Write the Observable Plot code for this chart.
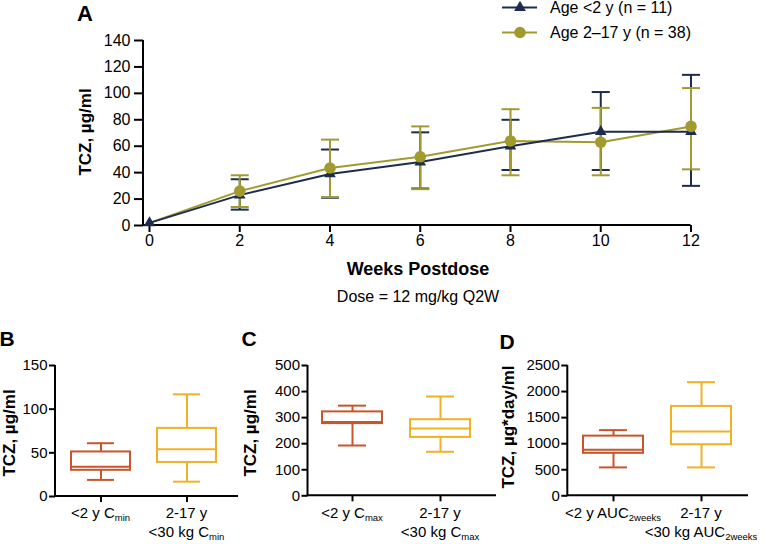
<!DOCTYPE html>
<html><head><meta charset="utf-8">
<script src="https://cdn.jsdelivr.net/npm/d3@7"></script>
<script src="https://cdn.jsdelivr.net/npm/@observablehq/plot@0.6"></script>
<style>
body{margin:0;background:#fff;}
#fig{position:relative;width:776px;height:544px;overflow:hidden;font-family:"Liberation Sans",Arial,Helvetica,sans-serif;color:#000;background:#fff;}
.abs{position:absolute;white-space:nowrap;line-height:1;}
.sub{font-size:9.5px;position:relative;top:3px;}
</style></head><body><div id="fig"></div>
<script>
// ---------- Data: panel A ----------
const weeks = [0, 2, 4, 6, 8, 10, 12];
const under2Mean = [2, 23, 39, 48, 60, 71, 71];
const under2Low  = [null, 12, 21, 28, 42, 42, 30];
const under2High = [null, 35, 57.5, 70.5, 80, 101, 114];
const over2Mean  = [2, 26, 43.5, 52, 64, 63, 75];
const over2Low   = [null, 14, 21.5, 27.5, 38, 38, 42.5];
const over2High  = [null, 38, 65, 75, 88, 89, 104];
const xTicksA = [0, 2, 4, 6, 8, 10, 12];
const yTicksA = [0, 20, 40, 60, 80, 100, 120, 140];
const seriesNames = ["Age <2 y (n = 11)", "Age 2\u201317 y (n = 38)"];
const seriesColors = ["#1d2b4e", "#a19b2f"];

// ---------- Data: panels B-D (box plots) ----------
const boxCats = ["<2 y", "2-17 y <30 kg"];
const boxColors = ["#c8552b", "#f1b124"];
const cminMin = [19, 17], cminQ1 = [30, 39], cminMed = [34, 54], cminQ3 = [51, 78], cminMax = [61, 117];
const cmaxMin = [193, 169], cmaxQ1 = [277, 224], cmaxMed = [283, 258], cmaxQ3 = [322, 292], cmaxMax = [346, 381];
const aucMin = [545, 545], aucQ1 = [815, 980], aucMed = [885, 1235], aucQ3 = [1145, 1715], aucMax = [1260, 2180];
const yTicksB = [0, 50, 100, 150];
const yTicksC = [0, 100, 200, 300, 400, 500];
const yTicksD = [0, 500, 1000, 1500, 2000, 2500];
const tickLabelsB = [[["<2 y C", "min"]], [["2-17 y", ""], ["<30 kg C", "min"]]];
const tickLabelsC = [[["<2 y C", "max"]], [["2-17 y", ""], ["<30 kg C", "max"]]];
const tickLabelsD = [[["<2 y AUC", "2weeks"]], [["2-17 y", ""], ["<30 kg AUC", "2weeks"]]];

const FONT = '"Liberation Sans", Arial, Helvetica, sans-serif';
const fig = document.getElementById("fig");

function textDiv(parts, x, y, {size = 15, bold = false, rotate = false, anchor = "middle"} = {}) {
  const d = document.createElement("div");
  d.className = "abs";
  d.style.fontSize = size + "px";
  if (bold) d.style.fontWeight = "bold";
  const [main, sub] = Array.isArray(parts) ? parts : [parts, ""];
  d.appendChild(document.createTextNode(main));
  if (sub) { const s = document.createElement("span"); s.className = "sub"; s.textContent = sub; d.appendChild(s); }
  d.style.left = x + "px"; d.style.top = y + "px";
  const tx = anchor === "start" ? "0" : "-50%";
  d.style.transform = `translate(${tx},-50%)` + (rotate ? " rotate(-90deg)" : "");
  fig.appendChild(d);
  return d;
}

function axisLines(index, scales, values, dims) {
  const g = d3.create("svg:g").attr("fill", "none").attr("stroke", "#000").attr("stroke-width", 2);
  g.append("path").attr("d", `M${dims.marginLeft},${dims.marginTop}V${dims.height - dims.marginBottom}H${dims.width - dims.marginRight}`);
  return g.node();
}

function placeSvg(svg, left, top) {
  svg.style.position = "absolute";
  svg.style.left = left + "px";
  svg.style.top = top + "px";
  fig.appendChild(svg);
}

// ---------- Panel A ----------
const rowsU = weeks.map((w, i) => ({week: w, mean: under2Mean[i], lo: under2Low[i], hi: under2High[i]}));
const rowsO = weeks.map((w, i) => ({week: w, mean: over2Mean[i], lo: over2Low[i], hi: over2High[i]}));
const hasErr = r => r.lo != null;
const capSymbol = {draw(ctx, size) { const r = Math.sqrt(size / Math.PI); ctx.moveTo(-r, 0); ctx.lineTo(r, 0); }};
const xDomainA = [-0.133, 12];

function errMarks(rows, color) {
  const r = rows.filter(hasErr);
  return [
    Plot.ruleX(r, {x: "week", y1: "lo", y2: "hi", stroke: color, strokeWidth: 2}),
    Plot.dot(r, {x: "week", y: "lo", symbol: capSymbol, r: 9, stroke: color, strokeWidth: 2, fill: "none"}),
    Plot.dot(r, {x: "week", y: "hi", symbol: capSymbol, r: 9, stroke: color, strokeWidth: 2, fill: "none"})
  ];
}

const plotA = Plot.plot({
  width: 776, height: 310,
  marginLeft: 143, marginRight: 85.5, marginTop: 40, marginBottom: 85,
  x: {domain: xDomainA},
  y: {domain: [0, 140]},
  style: {fontFamily: FONT, fontSize: "16px", color: "#000", background: "transparent", overflow: "visible"},
  marks: [
    axisLines,
    Plot.axisY({ticks: yTicksA, tickSize: 9, tickPadding: 4, label: null, strokeWidth: 2, fontSize: 16}),
    Plot.axisX({ticks: xTicksA, tickSize: 7, tickPadding: 2, label: null, strokeWidth: 2, fontSize: 16}),
    ...errMarks(rowsU, seriesColors[0]),
    ...errMarks(rowsO, seriesColors[1]),
    Plot.line(rowsO, {x: "week", y: "mean", stroke: seriesColors[1], strokeWidth: 2}),
    Plot.line(rowsU, {x: "week", y: "mean", stroke: seriesColors[0], strokeWidth: 2}),
    Plot.dot(rowsU, {x: "week", y: "mean", symbol: "triangle", r: 4.3, fill: seriesColors[0]}),
    Plot.dot(rowsO.filter(r => r.week > 0), {x: "week", y: "mean", symbol: "circle", r: 5.8, fill: seriesColors[1]})
  ]
});
placeSvg(plotA, 0, 0);

// legend
const leg = d3.create("svg").attr("width", 50).attr("height", 45)
  .style("position", "absolute").style("left", "495px").style("top", "0px");
const legSyms = [d3.symbol(d3.symbolTriangle, 60), d3.symbol(d3.symbolCircle, 106)];
seriesNames.forEach((name, i) => {
  const y = 7.5 + i * 25;
  leg.append("line").attr("x1", 7).attr("x2", 42).attr("y1", y).attr("y2", y)
    .attr("stroke", seriesColors[i]).attr("stroke-width", 2);
  leg.append("path").attr("d", legSyms[i]()).attr("transform", `translate(25,${y})`).attr("fill", seriesColors[i]);
  textDiv(name, 550, y, {size: 16, anchor: "start"});
});
fig.appendChild(leg.node());

textDiv("A", 85, 14, {size: 22, bold: true});
textDiv("TCZ, \u00b5g/ml", 85, 132, {size: 17, bold: true, rotate: true});
textDiv("Weeks Postdose", 418, 269, {size: 18, bold: true});
textDiv("Dose = 12 mg/kg Q2W", 418, 297, {size: 16});

// ---------- Box panels ----------
function boxPanel({mins, q1s, meds, q3s, maxs, yDomain, yTicks, left, top, width, height, ml, mr, mt, mb, pi, po, align, tickLabels}) {
  const rows = boxCats.map((c, i) => ({cat: c, min: mins[i], q1: q1s[i], med: meds[i], q3: q3s[i], max: maxs[i]}));
  const p = Plot.plot({
    width, height, marginLeft: ml, marginRight: mr, marginTop: mt, marginBottom: mb,
    x: {domain: boxCats, paddingInner: pi, paddingOuter: po, align, axis: null},
    y: {domain: yDomain},
    color: {domain: boxCats, range: boxColors},
    style: {fontFamily: FONT, fontSize: "15px", color: "#000", background: "transparent", overflow: "visible"},
    marks: [
      axisLines,
      Plot.axisY({ticks: yTicks, tickFormat: d3.format("d"), tickSize: 6, tickPadding: 2, label: null, strokeWidth: 2, fontSize: 15}),
      Plot.axisX({tickSize: 6, tickFormat: () => "", label: null, strokeWidth: 2}),
      Plot.ruleX(rows, {x: "cat", y1: "q3", y2: "max", stroke: "cat", strokeWidth: 2}),
      Plot.ruleX(rows, {x: "cat", y1: "min", y2: "q1", stroke: "cat", strokeWidth: 2}),
      Plot.barY(rows, {x: "cat", y1: "q1", y2: "q3", fill: "white", stroke: "cat", strokeWidth: 2}),
      Plot.tickY(rows, {x: "cat", y: "med", stroke: "cat", strokeWidth: 2}),
      Plot.tickY(rows, {x: "cat", y: "max", stroke: "cat", strokeWidth: 2, inset: 16}),
      Plot.tickY(rows, {x: "cat", y: "min", stroke: "cat", strokeWidth: 2, inset: 16})
    ]
  });
  placeSvg(p, left, top);
  const xs = p.scale("x");
  boxCats.forEach((c, i) => {
    const cx = left + xs.apply(c) + xs.bandwidth / 2;
    tickLabels[i].forEach((line, j) => textDiv(line, cx, 512 + j * 19, {size: 15}));
  });
}

boxPanel({mins: cminMin, q1s: cminQ1, meds: cminMed, q3s: cminQ3, maxs: cminMax,
  yDomain: [0, 150], yTicks: yTicksB, left: 0, top: 320, width: 250, height: 200,
  ml: 55, mr: 12, mt: 45, mb: 24, pi: 0.31, po: 0.207, align: 0.436, tickLabels: tickLabelsB});
boxPanel({mins: cmaxMin, q1s: cmaxQ1, meds: cmaxMed, q3s: cmaxQ3, maxs: cmaxMax,
  yDomain: [0, 500], yTicks: yTicksC, left: 255, top: 320, width: 250, height: 200,
  ml: 52.5, mr: 9, mt: 45, mb: 24.7, pi: 0.32, po: 0.228, align: 0.353, tickLabels: tickLabelsC});
boxPanel({mins: aucMin, q1s: aucQ1, meds: aucMed, q3s: aucQ3, maxs: aucMax,
  yDomain: [0, 2500], yTicks: yTicksD, left: 515, top: 320, width: 261, height: 200,
  ml: 52.3, mr: 28, mt: 45, mb: 24.7, pi: 0.322, po: 0.182, align: 0.478, tickLabels: tickLabelsD});

textDiv("B", 7, 338, {size: 21, bold: true});
textDiv("C", 249, 338, {size: 21, bold: true});
textDiv("D", 507, 341, {size: 21, bold: true});
textDiv("TCZ, \u00b5g/ml", 9, 433, {size: 17, bold: true, rotate: true});
textDiv("TCZ, \u00b5g/ml", 250, 433, {size: 17, bold: true, rotate: true});
textDiv("TCZ, \u00b5g*day/ml", 508, 427, {size: 17, bold: true, rotate: true});
</script></body></html>
